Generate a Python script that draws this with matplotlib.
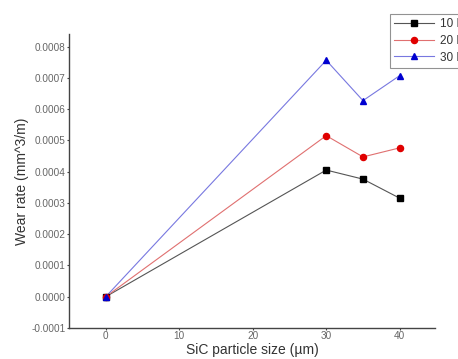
import matplotlib
matplotlib.use("Agg")
import matplotlib.pyplot as plt

plt.rcParams['font.family'] = ['Liberation Sans', 'DejaVu Sans']

# SiC particle size (µm) and wear rate (mm^3/m) for each applied load
particle_size = [0, 30, 35, 40]
wear_10N = [0.0, 0.000405, 0.000376, 0.000315]
wear_20N = [0.0, 0.000515, 0.000447, 0.000476]
wear_30N = [0.0, 0.000756, 0.000627, 0.000707]
series_labels = ["10 N", "20 N", "30 N"]
x_ticks = [0, 10, 20, 30, 40]
y_ticks = [-0.0001, 0.0, 0.0001, 0.0002, 0.0003, 0.0004, 0.0005, 0.0006, 0.0007, 0.0008]

W, H = 458, 359
fig = plt.figure(figsize=(W / 100, H / 100), dpi=100)
ax = fig.add_axes([69 / W, 1 - 328 / H, (435 - 69) / W, (328 - 34) / H])

styles = [
    dict(color="black", marker="s", line="#555555"),
    dict(color="#e00000", marker="o", line="#e07070"),
    dict(color="#0000d0", marker="^", line="#7878e0"),
]
handles = []
for vals, lab, st in zip([wear_10N, wear_20N, wear_30N], series_labels, styles):
    ax.plot(particle_size, vals, color=st["line"], lw=0.8, zorder=2)
    ax.plot(particle_size, vals, ls="none", marker=st["marker"], ms=4.4,
            mfc=st["color"], mec=st["color"], zorder=3)
    h, = ax.plot([], [], color=st["line"], lw=0.8, marker=st["marker"], ms=4.4,
                 mfc=st["color"], mec=st["color"], label=lab)
    handles.append(h)

ax.set_xlim(-5, 44.8)
ax.set_ylim(-0.0001, 0.00084)
ax.set_xticks(x_ticks)
ax.set_yticks(y_ticks)
ax.set_yticklabels([f"{v:.4f}" for v in y_ticks])

for s in ["top", "right"]:
    ax.spines[s].set_visible(False)
for s in ["left", "bottom"]:
    ax.spines[s].set_color("#444444")
    ax.spines[s].set_linewidth(1.0)

ax.tick_params(axis="both", labelsize=7.2, labelcolor="#666666", color="#444444",
               length=1.5, width=0.8, direction="out", pad=0.8)

ax.set_xlabel("SiC particle size (µm)", fontsize=10, color="#333333", labelpad=1)
ax.set_ylabel("Wear rate (mm^3/m)", fontsize=10, color="#333333", labelpad=2)

leg = fig.legend(handles=handles, loc="upper left",
                 bbox_to_anchor=(390 / W, 1 - 14 / H), fontsize=8.5,
                 frameon=True, fancybox=False, edgecolor="#777777",
                 handlelength=3.4, handletextpad=0.45, borderpad=0.35,
                 labelspacing=0.4, borderaxespad=0)
leg.get_frame().set_linewidth(0.8)
for t in leg.get_texts():
    t.set_color("#333333")

fig.savefig("out.png", dpi=100)
